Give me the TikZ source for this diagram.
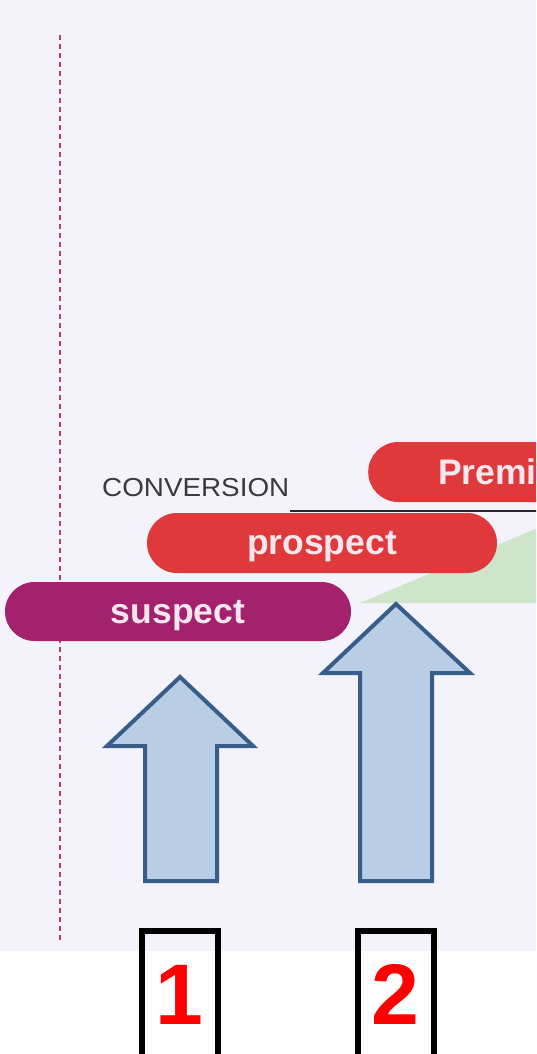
\documentclass[tikz,border=0pt]{standalone}
\usepackage{fontspec}
\setmainfont{Liberation Sans}
\usetikzlibrary{shapes.misc}
\definecolor{paper}{HTML}{F4F3FB}
\definecolor{guidered}{HTML}{B04562}
\definecolor{suspectc}{HTML}{A3216D}
\definecolor{prospectc}{HTML}{E0393B}
\definecolor{pilltext}{HTML}{F7E6EE}
\definecolor{rise}{HTML}{CFE5CB}
\definecolor{rulec}{HTML}{2B2433}
\definecolor{arrowfill}{HTML}{B9CDE5}
\definecolor{arrowedge}{HTML}{385D8A}
\definecolor{labelgray}{HTML}{3A3A3A}
\begin{document}
\begin{tikzpicture}[x=1pt,y=-1pt,
  guide/.style={draw=guidered,line width=1.8pt,dash pattern=on 5pt off 4pt},
  pill/.style={rounded rectangle,inner sep=0pt,minimum height=59pt,
    text height=23pt,text depth=0pt,
    text=pilltext,font=\fontsize{35.5}{40}\selectfont\bfseries},
  pilltext/.style={inner sep=0pt,text=pilltext,
    font=\fontsize{35.5}{40}\selectfont\bfseries},
  blockarrow/.style={fill=arrowfill,draw=arrowedge,line width=4pt,line join=miter},
  numbox/.style={draw=black,line width=6pt,minimum width=76pt,
    minimum height=140pt,inner sep=0pt},
  digit/.style={inner sep=0pt,anchor=base,text=red,
    font=\fontsize{86}{90}\selectfont\bfseries}]
\useasboundingbox (0,0) rectangle (536,1054);
\clip (0,0) rectangle (536,1054);

% paper background of the scanned chart
\fill[paper] (0,0) rectangle (536,951);

% dashed vertical guide
\coordinate (gtop) at (60,35);
\coordinate (gbot) at (60,942);
\draw[guide] (gtop) -- (gbot);

% green rising wedge
\fill[rise] (360,603) -- (540,527) -- (540,603) -- cycle;

% dark rule under the top bar
\coordinate (rulea) at (290,511);
\coordinate (ruleb) at (540,511);
\draw[rulec,line width=2.5pt] (rulea) -- (ruleb);

% stage label
\node[inner sep=0pt,anchor=base west,text=labelgray,
  font=\fontsize{26}{30}\selectfont] (conv) at (102,496)
  {\scalebox{1.07}[1]{CONVERSION}};

% stage bars
\node[pill,fill=prospectc,anchor=west,minimum width=320pt,minimum height=60pt]
  (premium) at (368,472) {};
\node[pilltext,anchor=base west] (premiumlabel) at (438,484) {Premi};
\node[pill,fill=prospectc,minimum width=350pt,minimum height=60pt]
  (prospect) at (322,543) {prospect};
\node[pill,fill=suspectc,minimum width=346pt] (suspect) at (178,611.5) {suspect};

% block arrows
\draw[blockarrow] (180,677) -- (253,746) -- (217,746) -- (217,881)
  -- (145,881) -- (145,746) -- (107,746) -- cycle;
\draw[blockarrow] (396,604) -- (470,673) -- (432,673) -- (432,881)
  -- (360,881) -- (360,673) -- (323,673) -- cycle;

% numbered boxes
\node[numbox] (box1) at (180,1001) {};
\node[numbox] (box2) at (396,1001) {};
\node[digit] (one) at (179,1024) {1};
\node[digit] (two) at (395,1024) {2};
\end{tikzpicture}
\end{document}
